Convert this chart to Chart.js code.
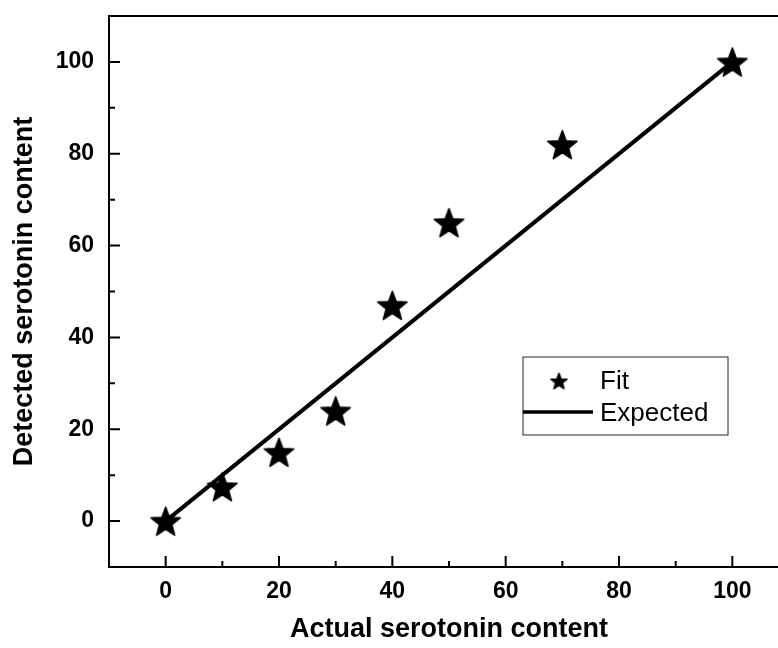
<!DOCTYPE html>
<html>
<head>
<meta charset="utf-8">
<script src="https://cdn.jsdelivr.net/npm/chart.js@4/dist/chart.umd.min.js"></script>
<style>
  html, body { margin: 0; padding: 0; background: #fff; overflow: hidden; }
  #wrap { width: 778px; height: 648px; overflow: hidden; }
</style>
</head>
<body>
<div id="wrap"><canvas id="chart" width="800" height="648"></canvas></div>
<script>
// data
const fitX = [0, 10, 20, 30, 40, 50, 70, 100];
const fitY = [0, 7.5, 15, 24, 47, 65, 82, 100];
const expectedX = [0, 100];
const expectedY = [0, 100];

const xTicks = [0, 20, 40, 60, 80, 100];
const xMinor = [10, 30, 50, 70, 90];
const yTicks = [0, 20, 40, 60, 80, 100];
const yMinor = [10, 30, 50, 70, 90];

const FONT = '"Liberation Sans", Arial, sans-serif';

// filled five point star used as the point marker
function makeStar(r) {
    const size = Math.ceil(r * 2 + 4);
    const c = document.createElement('canvas');
    c.width = size;
    c.height = size;
    const g = c.getContext('2d');
    const cx = size / 2, cy = size / 2 + r * 0.1;
    const inner = r * 0.42;
    g.beginPath();
    for (let i = 0; i < 10; i++) {
        const rad = i % 2 === 0 ? r : inner;
        const a = -Math.PI / 2 + i * Math.PI / 5;
        const px = cx + rad * Math.cos(a);
        const py = cy + rad * Math.sin(a);
        if (i === 0) g.moveTo(px, py); else g.lineTo(px, py);
    }
    g.closePath();
    g.fillStyle = '#000';
    g.lineJoin = 'round';
    g.strokeStyle = '#000';
    g.lineWidth = 1.5;
    g.fill();
    g.stroke();
    return c;
}

const bigStar = makeStar(15.5);
const smallStar = makeStar(8.5);

// frame, inward ticks and the legend box
const framePlugin = {
    id: 'frame',
    afterDraw(chart) {
        const { ctx, chartArea: a, scales } = chart;
        const xs = scales.x, ys = scales.y;
        ctx.save();
        ctx.strokeStyle = '#000';
        ctx.lineWidth = 2;
        ctx.strokeRect(a.left, a.top, a.right - a.left, a.bottom - a.top);

        ctx.beginPath();
        xTicks.forEach(v => {
            const px = xs.getPixelForValue(v);
            ctx.moveTo(px, a.bottom); ctx.lineTo(px, a.bottom - 11);
        });
        xMinor.forEach(v => {
            const px = xs.getPixelForValue(v);
            ctx.moveTo(px, a.bottom); ctx.lineTo(px, a.bottom - 6);
        });
        yTicks.forEach(v => {
            const py = ys.getPixelForValue(v);
            ctx.moveTo(a.left, py); ctx.lineTo(a.left + 11, py);
        });
        yMinor.forEach(v => {
            const py = ys.getPixelForValue(v);
            ctx.moveTo(a.left, py); ctx.lineTo(a.left + 6, py);
        });
        ctx.stroke();

        // legend
        const lx = a.left + 414, ly = a.top + 341;
        ctx.lineWidth = 1;
        ctx.strokeStyle = '#222';
        ctx.strokeRect(lx, ly, 205, 78);
        ctx.drawImage(smallStar, lx + 36 - smallStar.width / 2, ly + 24 - smallStar.height / 2);
        ctx.strokeStyle = '#000';
        ctx.lineWidth = 3.5;
        ctx.beginPath();
        ctx.moveTo(lx, ly + 55);
        ctx.lineTo(lx + 70, ly + 55);
        ctx.stroke();
        ctx.fillStyle = '#000';
        ctx.font = '26px ' + FONT;
        ctx.textBaseline = 'alphabetic';
        ctx.textAlign = 'left';
        ctx.fillText('Fit', lx + 77, ly + 32);
        ctx.fillText('Expected', lx + 77, ly + 64);
        ctx.restore();
    }
};

new Chart(document.getElementById('chart'), {
    type: 'scatter',
    data: {
        datasets: [
            {
                label: 'Fit',
                data: fitX.map((x, i) => ({ x, y: fitY[i] })),
                pointStyle: bigStar,
                showLine: false
            },
            {
                label: 'Expected',
                data: expectedX.map((x, i) => ({ x, y: expectedY[i] })),
                showLine: true,
                borderColor: '#000',
                borderWidth: 4,
                pointRadius: 0,
                pointHoverRadius: 0
            }
        ]
    },
    options: {
        responsive: false,
        animation: false,
        layout: { padding: { top: 16, right: 11, left: 0, bottom: 0 } },
        plugins: { legend: { display: false }, tooltip: { enabled: false } },
        scales: {
            x: {
                type: 'linear',
                min: -10,
                max: 110,
                grid: { display: false, drawTicks: false },
                border: { display: false },
                afterBuildTicks: s => { s.ticks = xTicks.map(v => ({ value: v })); },
                afterFit: s => { s.height = 81; s.paddingLeft = 0; s.paddingRight = 0; },
                ticks: {
                    padding: 11,
                    color: '#000',
                    maxRotation: 0,
                    font: { family: FONT, size: 23, weight: 'bold' }
                },
                title: {
                    display: true,
                    text: 'Actual serotonin content',
                    color: '#000',
                    padding: { top: 0, bottom: 2 },
                    font: { family: FONT, size: 27, weight: 'bold' }
                }
            },
            y: {
                type: 'linear',
                min: -10,
                max: 110,
                grid: { display: false, drawTicks: false },
                border: { display: false },
                afterBuildTicks: s => { s.ticks = yTicks.map(v => ({ value: v })); },
                afterFit: s => { s.width = 109; s.paddingTop = 0; s.paddingBottom = 0; },
                ticks: {
                    padding: 15,
                    color: '#000',
                    font: { family: FONT, size: 23, weight: 'bold' }
                },
                title: {
                    display: true,
                    text: 'Detected serotonin content',
                    color: '#000',
                    padding: { top: 8, bottom: 0 },
                    font: { family: FONT, size: 27, weight: 'bold' }
                }
            }
        }
    },
    plugins: [framePlugin]
});
</script>
</body>
</html>
